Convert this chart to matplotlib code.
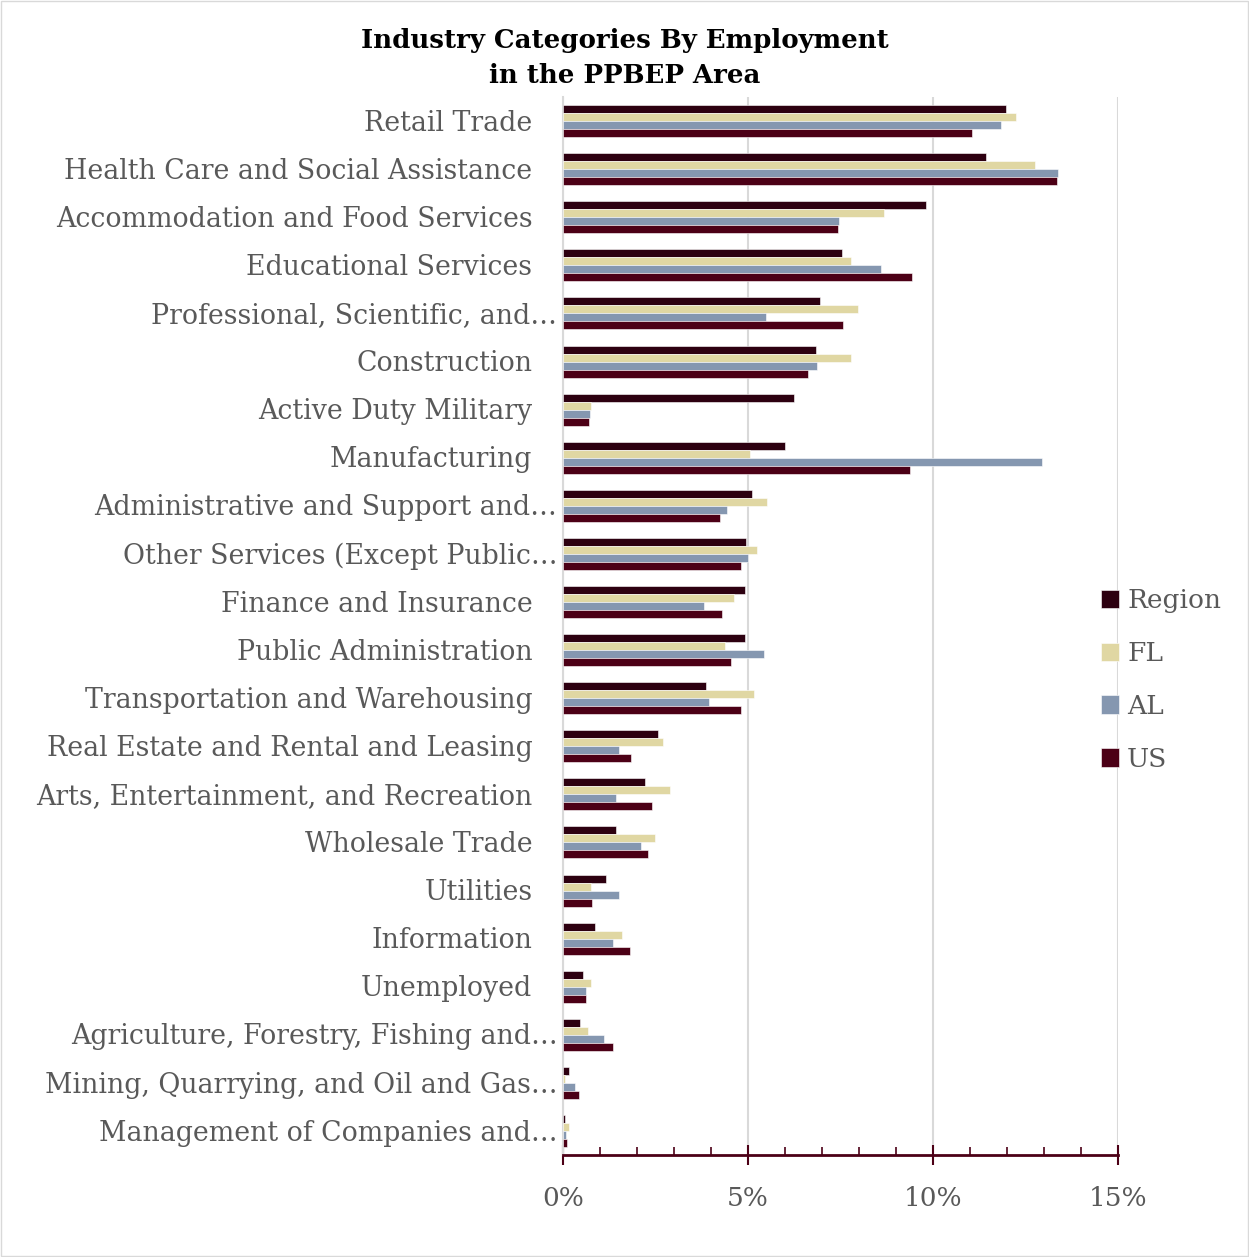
import matplotlib
matplotlib.use("Agg")
import matplotlib.pyplot as plt
import matplotlib.transforms as mtransforms
from matplotlib.patches import Rectangle
from matplotlib.ticker import MultipleLocator, FuncFormatter
import numpy as np

# Industry categories, top to bottom
industries = [
    "Retail Trade",
    "Health Care and Social Assistance",
    "Accommodation and Food Services",
    "Educational Services",
    "Professional, Scientific, and…",
    "Construction",
    "Active Duty Military",
    "Manufacturing",
    "Administrative and Support and…",
    "Other Services (Except Public…",
    "Finance and Insurance",
    "Public Administration",
    "Transportation and Warehousing",
    "Real Estate and Rental and Leasing",
    "Arts, Entertainment, and Recreation",
    "Wholesale Trade",
    "Utilities",
    "Information",
    "Unemployed",
    "Agriculture, Forestry, Fishing and…",
    "Mining, Quarrying, and Oil and Gas…",
    "Management of Companies and…",
]

# Share of employment (%)
region = [11.98, 11.44, 9.80, 7.55, 6.95, 6.84, 6.23, 5.99, 5.10, 4.95, 4.92,
          4.92, 3.86, 2.57, 2.22, 1.43, 1.15, 0.86, 0.54, 0.46, 0.17, 0.04]
fl = [12.24, 12.77, 8.68, 7.77, 7.97, 7.78, 0.76, 5.05, 5.51, 5.24, 4.62,
      4.38, 5.16, 2.70, 2.89, 2.48, 0.75, 1.58, 0.75, 0.67, 0.05, 0.15]
al = [11.85, 13.37, 7.47, 8.59, 5.49, 6.86, 0.74, 12.94, 4.42, 5.01, 3.81,
      5.43, 3.95, 1.51, 1.43, 2.12, 1.51, 1.36, 0.61, 1.10, 0.31, 0.08]
us = [11.06, 13.35, 7.44, 9.44, 7.57, 6.62, 0.71, 9.37, 4.25, 4.80, 4.30,
      4.54, 4.81, 1.84, 2.41, 2.30, 0.78, 1.82, 0.63, 1.34, 0.43, 0.12]

series = ["Region", "FL", "AL", "US"]
colors = ["#2d0010", "#e0d7a3", "#8597b0", "#4c0016"]

plt.rcParams["font.family"] = ["DejaVu Serif"]
gray = "#595959"
maroon = "#4c0016"

fig = plt.figure(figsize=(12.49, 12.57), dpi=100)
ax = fig.add_axes([0.4508, 0.0811, 0.4443, 0.8417])

y = np.arange(len(industries))
h = 1 / 6
for i, (name, vals, c) in enumerate(zip(series, [region, fl, al, us], colors)):
    ax.barh(y + (i - 1.5) * h, vals, height=h, color=c, label=name,
            edgecolor="white", linewidth=0.4, zorder=3)

ax.set_ylim(len(industries) - 0.5, -0.5)
ax.set_xlim(0, 15)

ax.xaxis.set_major_locator(MultipleLocator(5))
ax.xaxis.set_minor_locator(MultipleLocator(1))
ax.xaxis.set_major_formatter(FuncFormatter(lambda v, p: f"{v:.0f}%"))
ax.grid(axis="x", color="#d9d9d9", linewidth=1.5, zorder=0)
ax.set_axisbelow(True)

ax.tick_params(axis="x", which="major", direction="inout", length=14,
               width=1.5, color=maroon, labelsize=19, labelcolor=gray, pad=15)
ax.tick_params(axis="x", which="minor", direction="in", length=6,
               width=1.2, color=maroon)

# category labels; truncated names sit closer to the axis
ax.set_yticks([])
for yi, name in zip(y, industries):
    dx = -4 if name.endswith("…") else -22
    tr = mtransforms.offset_copy(ax.get_yaxis_transform(), fig=fig, x=dx, y=-1.5, units="points")
    ax.text(0, yi, name, transform=tr, ha="right", va="center",
            fontsize=19.3, color=gray)

for side in ["top", "right"]:
    ax.spines[side].set_visible(False)
ax.spines["left"].set_color("#d9d9d9")
ax.spines["left"].set_linewidth(1.5)
ax.spines["bottom"].set_color(maroon)
ax.spines["bottom"].set_linewidth(2)

leg = ax.legend(loc="center left", bbox_to_anchor=(0.926, 0.449), frameon=False,
                fontsize=19, labelcolor=gray, handlelength=0.7, handleheight=0.7,
                handletextpad=0.3, labelspacing=1.05)

fig.text(0.5, 0.9535, "Industry Categories By Employment\nin the PPBEP Area",
         ha="center", va="center", fontsize=18.7, fontweight="bold", color="black",
         linespacing=1.5)

fig.patches.append(Rectangle((0.001, 0.001), 0.998, 0.998, transform=fig.transFigure,
                             fill=False, edgecolor="#d9d9d9", linewidth=1))

fig.savefig("out.png", dpi=100)
